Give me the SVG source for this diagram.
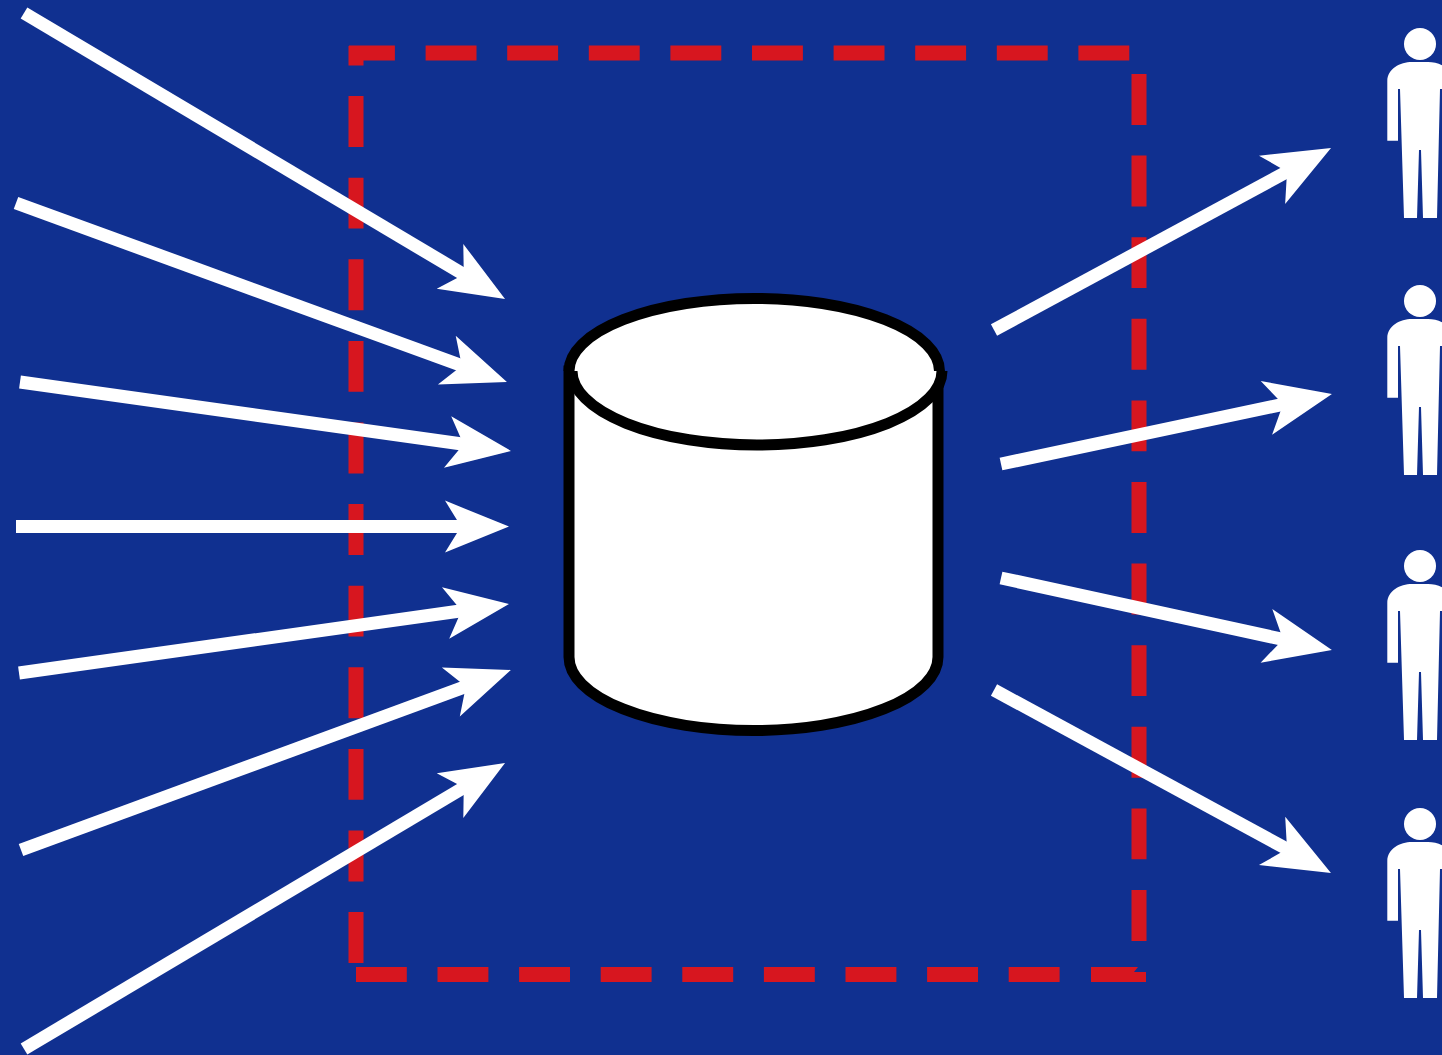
<svg xmlns="http://www.w3.org/2000/svg" width="1442" height="1055" viewBox="0 0 1442 1055">
<style>
.dash{fill:none;stroke:#d7161f;stroke-width:15;stroke-dasharray:50.9 30.7}
.cyl{fill:#fff;stroke:#000;stroke-width:11}
.arrow{stroke:#fff;stroke-width:13;fill:none;marker-end:url(#head)}
.arrow2{stroke:#fff;stroke-width:13;fill:none;marker-end:url(#head2)}
.person{fill:#fff}
</style>
<defs>
<marker id="head" markerUnits="userSpaceOnUse" viewBox="-16 -28 68 56" refX="6" refY="0" markerWidth="68" markerHeight="56" orient="auto">
<path d="M50 0L-14 -26L2 0L-14 26Z" fill="#fff"/>
</marker>
<marker id="head2" markerUnits="userSpaceOnUse" viewBox="-20 -30 72 60" refX="6" refY="0" markerWidth="72" markerHeight="60" orient="auto">
<path d="M50 0L-17 -27.500L0 0L-17 27.500Z" fill="#fff"/>
</marker>
<g id="personShape">
<circle cx="1420" cy="44" r="16"/>
<path d="M1387.300 140.700V81C1387.300 69 1400 62 1412 62H1428C1440 62 1452.700 69 1452.700 81V140.700H1442V89H1440L1437 218H1423L1421 150H1419L1417 218H1404L1400 89H1398V140.700Z"/>
</g>
</defs>
<rect width="1442" height="1055" fill="#103090"/>
<g id="boundary">
<path class="dash" d="M356 963V46"/>
<path class="dash" stroke-dashoffset="5" d="M349 53H1139V971"/>
<path class="dash" d="M1059.600 974.500H356"/>
<path d="M1091 967H1138L1134 972H1146V982H1091Z" fill="#d7161f"/>
</g>
<g id="database">
<path class="cyl" d="M569 371V657A184.500 73.500 0 0 0 938 657V371Z"/>
<path class="cyl" d="M569 371A185 72.500 0 0 1 939.500 371"/>
<path class="cyl" d="M572 371A185 74 0 0 0 942 371"/>
</g>
<g id="connectors">
<line class="arrow" x1="24" y1="13" x2="467.200" y2="276.500"/>
<line class="arrow" x1="16" y1="203" x2="465.600" y2="367"/>
<line class="arrow" x1="20" y1="382" x2="467.400" y2="444.800"/>
<line class="arrow" x1="16" y1="526.600" x2="465" y2="526.600"/>
<line class="arrow" x1="19" y1="673" x2="465.400" y2="610.200"/>
<line class="arrow" x1="21" y1="850" x2="469.600" y2="685.100"/>
<line class="arrow" x1="24" y1="1049" x2="467.200" y2="785.500"/>
<line class="arrow2" x1="994" y1="330" x2="1292.300" y2="168.900"/>
<line class="arrow2" x1="1001" y1="464" x2="1288.900" y2="403.100"/>
<line class="arrow2" x1="1001" y1="578" x2="1288.900" y2="640.700"/>
<line class="arrow2" x1="994" y1="690" x2="1292.300" y2="851.900"/>
</g>
<g id="person1" class="person"><use href="#personShape"/></g>
<g id="person2" class="person"><use href="#personShape" y="257"/></g>
<g id="person3" class="person"><use href="#personShape" y="522"/></g>
<g id="person4" class="person"><use href="#personShape" y="780"/></g>
</svg>
